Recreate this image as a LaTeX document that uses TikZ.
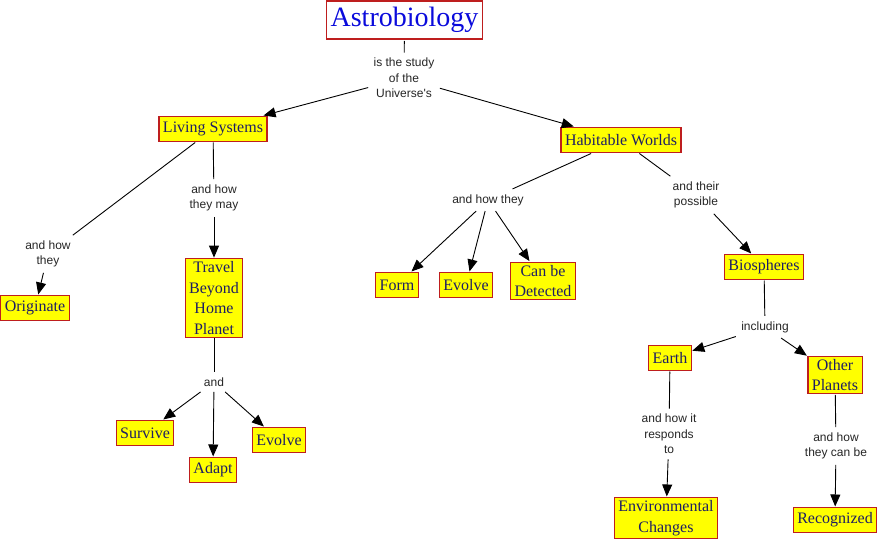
\documentclass[tikz,border=0pt]{standalone}
\usepackage{fontspec}
\setmainfont{Liberation Serif}
\newfontfamily\lblfont{Liberation Sans}
\usetikzlibrary{arrows.meta}
\definecolor{boxred}{RGB}{190,30,30}
\definecolor{boxyellow}{RGB}{255,255,0}
\definecolor{boxtext}{RGB}{30,30,100}
\definecolor{titleblue}{RGB}{10,10,220}
\begin{document}
\begin{tikzpicture}[x=1pt,y=-1pt,
  concept/.style={draw=boxred, fill=boxyellow, line width=1.2pt, text=boxtext,
    font=\fontsize{16}{20.5}\selectfont, align=center, inner xsep=4pt, inner ysep=3pt,
    minimum height=25pt, outer sep=1pt},
  titlebox/.style={draw=boxred, fill=white, line width=1.2pt, text=titleblue,
    font=\fontsize{28}{32}\selectfont, inner xsep=4.5pt, minimum height=38pt, outer sep=2pt},
  linklbl/.style={font=\lblfont\fontsize{12}{15.5}\selectfont, align=center,
    inner sep=3pt, outer sep=2.5pt, text=black!85},
  conn/.style={line width=0.9pt, draw=black},
  arr/.style={conn, -{Triangle[length=12pt,width=10pt]}},
]
\useasboundingbox (0,0) rectangle (880,545);
\fill[white] (0,0) rectangle (880,545);

% concepts
\node[titlebox] (astro) at (404.5,20) {Astrobiology};
\node[concept] (living) at (213,129) {Living Systems};
\node[concept] (habit) at (621,140) {Habitable Worlds};
\node[concept] (orig) at (35,308) {Originate};
\node[concept] (travel) at (214,298) {Travel\\Beyond\\Home\\Planet};
\node[concept] (survive) at (145,433) {Survive};
\node[concept] (adapt) at (213,470) {Adapt};
\node[concept] (evolveA) at (279,440) {Evolve};
\node[concept] (form) at (397,285) {Form};
\node[concept] (evolveB) at (466,285) {Evolve};
\node[concept] (detect) at (543,281) {Can be\\Detected};
\node[concept] (bios) at (764,267) {Biospheres};
\node[concept] (earth) at (670,358) {Earth};
\node[concept] (other) at (835,375) {Other\\Planets};
\node[concept] (env) at (666,518) {Environmental\\Changes};
\node[concept] (recog) at (835,520) {Recognized};

% link labels
\node[linklbl] (l1) at (404,78) {is the study\\of the\\Universe's};
\node[linklbl] (l2) at (48,254) {and how\\they};
\node[linklbl] (l3) at (214,198) {and how\\they may};
\node[linklbl] (l4) at (214,382) {and};
\node[linklbl] (l5) at (488,200) {and how they};
\node[linklbl] (l6) at (696,195) {and their\\possible};
\node[linklbl] (l7) at (765,327) {including};
\node[linklbl] (l8) at (669,434) {and how it\\responds\\to};
\node[linklbl] (l9) at (836,446) {and how\\they can be};

% connectors
\draw[conn] (astro) -- (l1);
\draw[arr] (l1) -- (living);
\draw[arr] (l1) -- (habit);

\draw[conn] (living) -- (l2);
\draw[arr] (l2) -- (orig);
\draw[conn] (living) -- (l3);
\draw[arr] (l3) -- (travel);
\draw[conn] (travel) -- (l4);
\draw[arr] (l4) -- (survive);
\draw[arr] (l4) -- (adapt);
\draw[arr] (l4) -- (evolveA);

\draw[conn] (habit) -- (l5);
\draw[arr] (l5) -- (form);
\draw[arr] (l5) -- (evolveB);
\draw[arr] (l5) -- (detect);
\draw[conn] (habit) -- (l6);
\draw[arr] (l6) -- (bios);
\draw[conn] (bios) -- (l7);
\draw[arr] (l7) -- (earth);
\draw[arr] (l7) -- (other);
\draw[conn] (earth) -- (l8);
\draw[arr] (l8) -- (env);
\draw[conn] (other) -- (l9);
\draw[arr] (l9) -- (recog);
\end{tikzpicture}
\end{document}
